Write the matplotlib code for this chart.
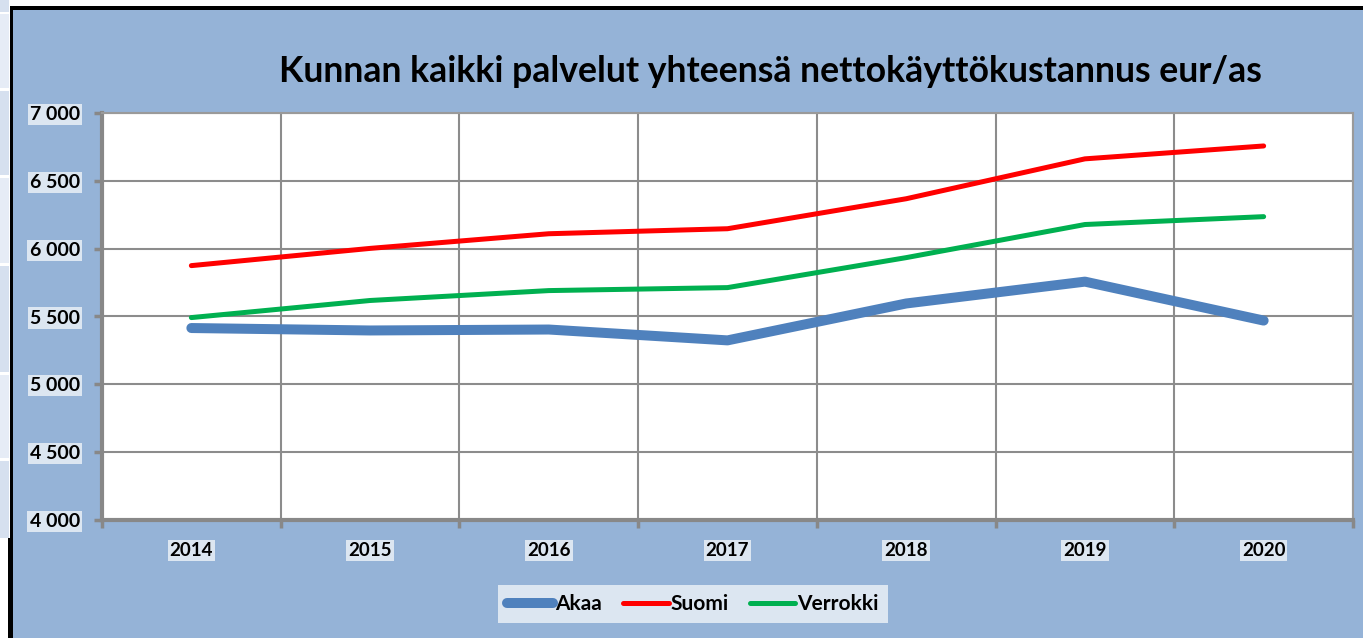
import matplotlib.pyplot as plt
from matplotlib.patches import Rectangle
import numpy as np

plt.rcParams['font.family'] = ['Lato', 'DejaVu Sans']

# Data
years = ["2014", "2015", "2016", "2017", "2018", "2019", "2020"]
akaa = [5415, 5397, 5404, 5324, 5596, 5757, 5470]
suomi = [5875, 6002, 6110, 6147, 6368, 6662, 6757]
verrokki = [5492, 5618, 5691, 5713, 5934, 6178, 6236]
y_ticks = [4000, 4500, 5000, 5500, 6000, 6500, 7000]

title = "Kunnan kaikki palvelut yhteensä nettokäyttökustannus eur/as"

W, H = 1363, 638
fig = plt.figure(figsize=(W / 100, H / 100), dpi=100)
fig.patch.set_facecolor("white")

# screenshot surroundings: sheet cells on the left, black frame, blue chart area
def px_rect(x0, y0, x1, y1, color, z=-2):
    fig.patches.append(Rectangle((x0 / W, 1 - y1 / H), (x1 - x0) / W, (y1 - y0) / H,
                                 transform=fig.transFigure, facecolor=color,
                                 edgecolor="none", zorder=z))

cells = [(0, 12), (14, 88), (91, 175), (178, 263), (266, 372), (375, 458), (461, 538)]
for i, (a, b) in enumerate(cells):
    px_rect(0, a, 9, b, "#D6E0EF" if i % 2 == 0 else "#E6ECF6")
px_rect(13, 9, W, H, "#95B3D7")
px_rect(10, 6, W, 10, "black", -1)
px_rect(10, 6, 13, 540, "black", -1)
px_rect(8, 538, 13, H, "black", -1)

ax = fig.add_axes([102 / W, 1 - 520 / H, (1353 - 102) / W, (520 - 113) / H])
ax.set_facecolor("white")
x = np.arange(len(years))

ax.plot(x, akaa, color="#4F81BD", lw=7.2, solid_capstyle="round", solid_joinstyle="round", label="Akaa", zorder=3)
ax.plot(x, suomi, color="#FF0000", lw=3.6, solid_capstyle="round", solid_joinstyle="round", label="Suomi", zorder=4)
ax.plot(x, verrokki, color="#00B050", lw=3.6, solid_capstyle="round", solid_joinstyle="round", label="Verrokki", zorder=4)

ax.set_xlim(-0.5, len(years) - 0.5)
ax.set_ylim(4000, 7000)

# y axis
ax.set_yticks(y_ticks)
ax.set_yticklabels([f"{v:,}".replace(",", " ") for v in y_ticks])
ax.tick_params(axis="y", length=6, width=2.5, color="#888888", pad=10, labelsize=14)
for lab in ax.get_yticklabels():
    lab.set_fontweight("bold")
    lab.set_bbox(dict(facecolor="#DCE6F1", edgecolor="none", pad=1.5))

# x axis: ticks at category borders, labels at centers
ax.set_xticks(np.arange(-0.5, len(years)), labels=[""] * (len(years) + 1))
ax.set_xticks(x, labels=years, minor=True)
ax.tick_params(axis="x", which="major", length=6, width=2.5, color="#888888")
ax.tick_params(axis="x", which="minor", length=0, pad=16, labelsize=13.5)
for lab in ax.get_xticklabels(minor=True):
    lab.set_fontweight("bold")
    lab.set_bbox(dict(facecolor="#DCE6F1", edgecolor="none", pad=1.5))

ax.grid(True, which="major", color="#8C8C8C", lw=1.5)
ax.set_axisbelow(True)
for side in ["left", "bottom"]:
    ax.spines[side].set_color("#888888")
    ax.spines[side].set_linewidth(3)
for side in ["top", "right"]:
    ax.spines[side].set_color("#9A9A9A")
    ax.spines[side].set_linewidth(1.5)

fig.text(770 / W, 1 - 72 / H, title, ha="center", va="center",
         fontsize=25.7, fontweight="bold", color="black")

leg = fig.legend(loc="center", bbox_to_anchor=(693 / W, 1 - 604 / H), ncol=3,
                 frameon=True, fancybox=False, fontsize=15, handlelength=2.2,
                 handletextpad=0.1, columnspacing=1.0, borderpad=0.45)
leg.get_frame().set_facecolor("#DCE6F1")
leg.get_frame().set_edgecolor("none")
leg.get_frame().set_alpha(1)
for t in leg.get_texts():
    t.set_fontweight("bold")

fig.savefig("out.png", dpi=100)
